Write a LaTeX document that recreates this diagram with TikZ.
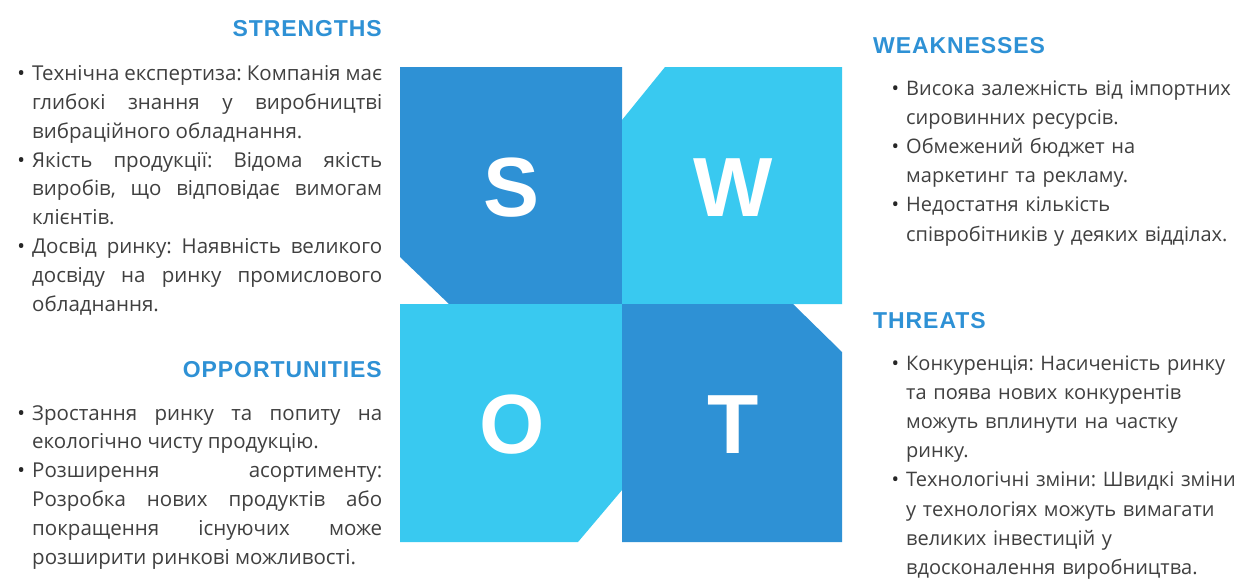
\documentclass[tikz,border=0pt]{standalone}
\usepackage{fontspec}
\setmainfont{Open Sans}
\newfontfamily\titrefont[LetterSpace=4]{Liberation Sans}
\newfontfamily\lettrefont{Liberation Sans}

\definecolor{bleufonce}{HTML}{2E91D5}
\definecolor{bleuclair}{HTML}{39C9F0}
\definecolor{gristexte}{HTML}{404040}

% puce suspendue devant chaque point
\newcommand\puce{\noindent\llap{\textcolor{black!85}{\textbullet}\hspace{7pt}}}
\hyphenpenalty=10000
\tolerance=10000
\frenchspacing

\begin{document}
\begin{tikzpicture}[x=1pt,y=-1pt,
  titre/.style={font=\titrefont\bfseries\fontsize{23}{23}\selectfont, text=bleufonce, inner sep=0pt},
  corps/.style={font=\fontsize{20.5}{28.8}\selectfont, text=gristexte, inner sep=0pt, anchor=base west},
  corpsdroit/.style={corps, font=\fontsize{20}{29.2}\selectfont, text width=332pt, align=left},
  lettre/.style={font=\lettrefont\bfseries\fontsize{84}{84}\selectfont, text=white, inner sep=0pt}]

\useasboundingbox[fill=white] (0,0) rectangle (1238,579);

% Quadrants
\fill[bleufonce] (400,67) -- (622,67) -- (622,304) -- (449,304) -- (400,257) -- cycle;
\fill[bleuclair] (665,67) -- (842,67) -- (842,304) -- (622,304) -- (622,120) -- cycle;
\fill[bleuclair] (400,304) -- (622,304) -- (622,490) -- (578,542) -- (400,542) -- cycle;
\fill[bleufonce] (622,304) -- (793,304) -- (842,352) -- (842,542) -- (622,542) -- cycle;

% Lettres
\node[lettre] (lettreS) at (512,188) {S};
\node[lettre] (lettreW) at (733,188) {W};
\node[lettre] (lettreO) at (512,425) {O};
\node[lettre] (lettreT) at (733,425) {T};

% Forces
\node[titre, anchor=base east] (titreS) at (382,36.7) {STRENGTHS};
\node[corps, text width=350pt, align=justify] (texteS) at (32,80.7) {%
\puce Технічна експертиза: Компанія має\linebreak глибокі знання у виробництві\linebreak вибраційного обладнання.\par
\puce Якість продукції: Відома якість\linebreak виробів, що відповідає вимогам\linebreak клієнтів.\par
\puce Досвід ринку: Наявність великого\linebreak досвіду на ринку промислового\linebreak обладнання.};

% Faiblesses
\node[titre, anchor=base west] (titreW) at (873,53) {WEAKNESSES};
\node[corpsdroit] (texteW) at (906,95) {%
\puce Висока залежність від імпортних\\ сировинних ресурсів.\par
\puce Обмежений бюджет на\\ маркетинг та рекламу.\par
\puce Недостатня кількість\\ співробітників у деяких відділах.};

% Opportunites
\node[titre, anchor=base east] (titreO) at (382,377) {OPPORTUNITIES};
\node[corps, text width=350pt, align=justify] (texteO) at (32,420) {%
\puce Зростання ринку та попиту на\linebreak екологічно чисту продукцію.\par
\puce Розширення асортименту:\linebreak Розробка нових продуктів або\linebreak покращення існуючих може\linebreak розширити ринкові можливості.};

% Menaces
\node[titre, anchor=base west] (titreT) at (873,328) {THREATS};
\node[corpsdroit] (texteT) at (906,370) {%
\puce Конкуренція: Насиченість ринку\\ та поява нових конкурентів\\ можуть вплинути на частку\\ ринку.\par
\puce Технологічні зміни: Швидкі зміни\\ у технологіях можуть вимагати\\ великих інвестицій у\\ вдосконалення виробництва.};

\end{tikzpicture}
\end{document}
